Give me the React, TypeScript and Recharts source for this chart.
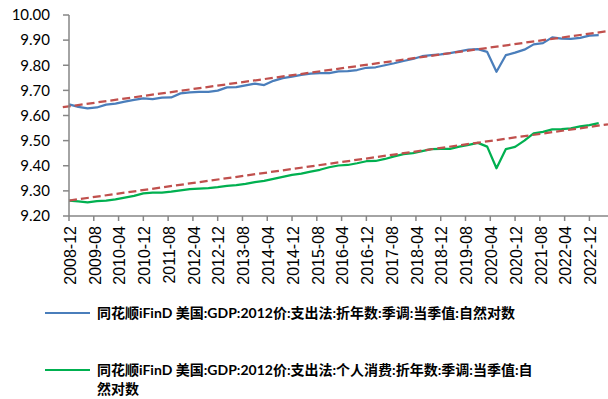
import React from "react";
import { LineChart, Line, XAxis, YAxis, ReferenceLine } from "recharts";

const dates = [
  "2008-12",
  "2009-03", "2009-06", "2009-09", "2009-12",
  "2010-03", "2010-06", "2010-09", "2010-12",
  "2011-03", "2011-06", "2011-09", "2011-12",
  "2012-03", "2012-06", "2012-09", "2012-12",
  "2013-03", "2013-06", "2013-09", "2013-12",
  "2014-03", "2014-06", "2014-09", "2014-12",
  "2015-03", "2015-06", "2015-09", "2015-12",
  "2016-03", "2016-06", "2016-09", "2016-12",
  "2017-03", "2017-06", "2017-09", "2017-12",
  "2018-03", "2018-06", "2018-09", "2018-12",
  "2019-03", "2019-06", "2019-09", "2019-12",
  "2020-03", "2020-06", "2020-09", "2020-12",
  "2021-03", "2021-06", "2021-09", "2021-12",
  "2022-03", "2022-06", "2022-09", "2022-12",
  "2023-03",
];

const gdpLog = [
  9.644,
  9.634, 9.628, 9.632, 9.643,
  9.647, 9.655, 9.662, 9.668,
  9.665, 9.671, 9.672, 9.688,
  9.692, 9.694, 9.694, 9.699,
  9.712, 9.713, 9.72, 9.727,
  9.721, 9.738, 9.749, 9.755,
  9.762, 9.767, 9.769, 9.769,
  9.776, 9.777, 9.781, 9.79,
  9.792, 9.8, 9.808, 9.817,
  9.825, 9.836, 9.84, 9.843,
  9.848, 9.855, 9.862, 9.864,
  9.853, 9.774, 9.84, 9.85,
  9.862, 9.883, 9.888, 9.911,
  9.906, 9.905, 9.909, 9.918,
  9.92,
];

const pceLog = [
  9.261,
  9.258, 9.254, 9.259, 9.261,
  9.266, 9.273, 9.28, 9.29,
  9.293, 9.293, 9.297, 9.302,
  9.307, 9.309, 9.311, 9.315,
  9.32, 9.323, 9.328, 9.335,
  9.34, 9.348, 9.356, 9.364,
  9.369, 9.377, 9.384, 9.394,
  9.401, 9.403, 9.41, 9.418,
  9.419, 9.427, 9.437, 9.446,
  9.45, 9.458, 9.466, 9.467,
  9.467, 9.476, 9.483, 9.491,
  9.476, 9.39, 9.466, 9.475,
  9.5, 9.529, 9.535, 9.545,
  9.546, 9.549, 9.557, 9.562,
  9.57,
];

// trend lines (start / end)
const gdpTrendDates = ["2008-10", "2023-06"];
const gdpTrendValues = [9.633, 9.936];
const pceTrendDates = ["2008-12", "2023-06"];
const pceTrendValues = [9.2615, 9.565];

const xTickLabels = [
  "2008-12", "2009-08", "2010-04", "2010-12", "2011-08", "2012-04",
  "2012-12", "2013-08", "2014-04", "2014-12", "2015-08", "2016-04",
  "2016-12", "2017-08", "2018-04", "2018-12", "2019-08", "2020-04",
  "2020-12", "2021-08", "2022-04", "2022-12",
];

const yTicks = [9.2, 9.3, 9.4, 9.5, 9.6, 9.7, 9.8, 9.9, 10.0];

const seriesNames = [
  "同花顺iFinD 美国:GDP:2012价:支出法:折年数:季调:当季值:自然对数",
  "同花顺iFinD 美国:GDP:2012价:支出法:个人消费:折年数:季调:当季值:自然对数",
];
const seriesColors = ["#4A7EBB", "#00B050"];
const trendColor = "#C0504D";

const toM = (s: string) => {
  const [y, m] = s.split("-").map(Number);
  return (y - 2008) * 12 + (m - 12);
};

const labelByM: Record<number, string> = {};
xTickLabels.forEach((l) => (labelByM[toM(l)] = l));

const rows = dates.map((d, i) => ({ m: toM(d), gdp: gdpLog[i], pce: pceLog[i] }));

const XTick = (props: any) => {
  const { x, y, payload } = props;
  return (
    <text
      transform={`translate(${x + 1},${y + 3}) rotate(-90)`}
      textAnchor="end"
      dy="0.36em"
      fontSize={16}
      fontFamily="'Liberation Sans', Arial, sans-serif"
      fill="#000"
    >
      {labelByM[payload.value]}
    </text>
  );
};

const axisColor = "#868686";

export default function App() {
  return (
    <div style={{ position: "absolute", left: 0, top: 0, width: 608, height: 399, background: "#fff" }}>
      <LineChart width={608} height={290} data={rows} margin={{ top: 15, right: 0, bottom: 14, left: 0 }}>
        <XAxis
          dataKey="m"
          type="number"
          domain={[0, 174]}
          ticks={xTickLabels.map(toM)}
          interval={0}
          tick={<XTick />}
          tickSize={5}
          height={60}
          stroke={axisColor}
          strokeWidth={1.5}
          tickLine={{ stroke: axisColor, strokeWidth: 1.5 }}
        />
        <YAxis
          type="number"
          domain={[9.2, 10]}
          ticks={yTicks}
          interval={0}
          tickFormatter={(v: number) => v.toFixed(2)}
          tickSize={6}
          tickMargin={13}
          width={69}
          stroke={axisColor}
          strokeWidth={1.5}
          tickLine={{ stroke: axisColor, strokeWidth: 1.5 }}
          tick={{ fill: "#000", fontSize: 15, fontFamily: "Lato, sans-serif" }}
        />
        <Line
          dataKey="gdp"
          stroke={seriesColors[0]}
          strokeWidth={2.25}
          dot={false}
          isAnimationActive={false}
          strokeLinejoin="round"
        />
        <Line
          dataKey="pce"
          stroke={seriesColors[1]}
          strokeWidth={2.25}
          dot={false}
          isAnimationActive={false}
          strokeLinejoin="round"
        />
        <ReferenceLine
          segment={[
            { x: toM(gdpTrendDates[0]), y: gdpTrendValues[0] },
            { x: toM(gdpTrendDates[1]), y: gdpTrendValues[1] },
          ]}
          stroke={trendColor}
          strokeWidth={2.25}
          strokeDasharray="8 4"
          ifOverflow="visible"
        />
        <ReferenceLine
          segment={[
            { x: toM(pceTrendDates[0]), y: pceTrendValues[0] },
            { x: toM(pceTrendDates[1]), y: pceTrendValues[1] },
          ]}
          stroke={trendColor}
          strokeWidth={2.25}
          strokeDasharray="8 4"
          ifOverflow="visible"
        />
      </LineChart>
      {seriesNames.map((name, i) => (
        <div
          key={i}
          style={{ position: "absolute", left: 45, top: i === 0 ? 303 : 360, display: "flex", alignItems: "flex-start" }}
        >
          <svg width={45} height={20} style={{ flex: "none" }}>
            <line x1={0} y1={10} x2={45} y2={10} stroke={seriesColors[i]} strokeWidth={2} />
          </svg>
          <div
            style={{
              marginLeft: 7,
              width: 445,
              fontWeight: 700,
              fontSize: 14,
              lineHeight: "19px",
              fontFamily: "Lato, 'Noto Sans CJK SC', sans-serif",
              color: "#000",
            }}
          >
            {name}
          </div>
        </div>
      ))}
    </div>
  );
}
